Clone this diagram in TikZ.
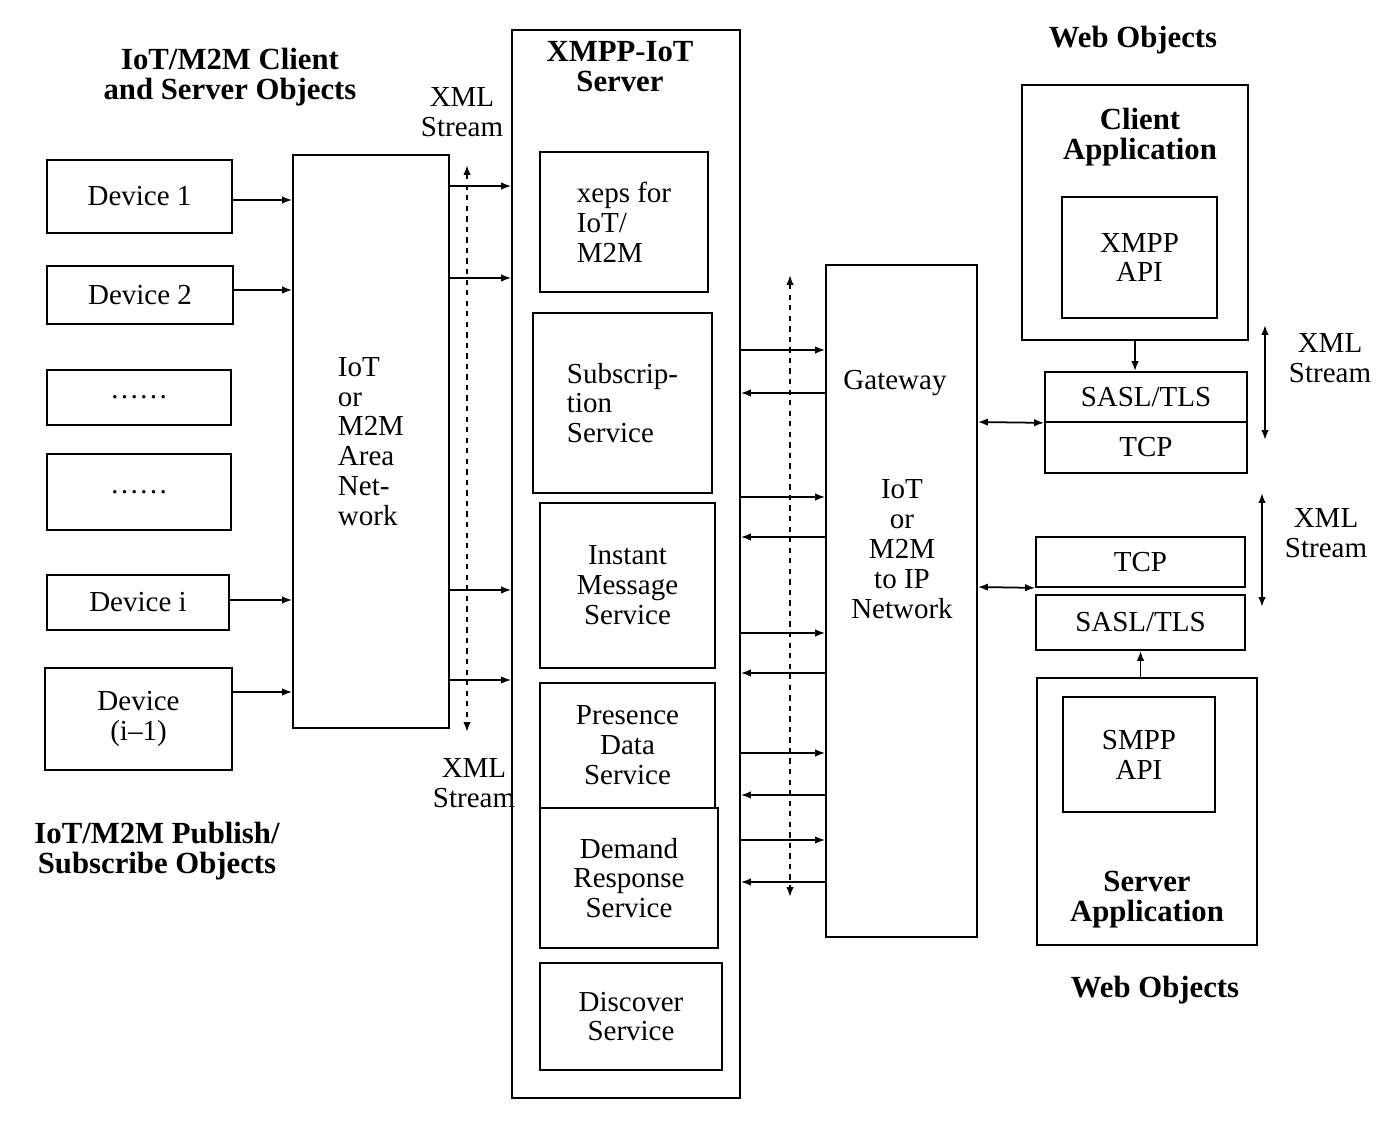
\documentclass[tikz,border=0pt]{standalone}
\usepackage{fontspec}
\setmainfont{Liberation Serif}
\usetikzlibrary{arrows.meta}

\begin{document}
\begin{tikzpicture}[x=0.02cm, y=-0.02cm, line width=1pt, >={Latex[length=0.2cm,width=0.15cm]},
    every node/.style={font=\fontsize{16.5}{17}\selectfont},
    box/.style={draw, align=center},
    hd/.style={font=\fontsize{17.5}{17}\selectfont\bfseries, align=center},
    txt/.style={align=center}]
    \useasboundingbox (0,0) rectangle (1376,1138);
    % Left-hand titles
    \node[hd] (clientobj) at (230,77) {IoT/M2M Client\\and Server Objects};
    \node[hd] (pubsub) at (157,851) {IoT/M2M Publish/\\Subscribe Objects};
    % Devices
    \node[box, minimum width=3.70cm, minimum height=1.46cm] (dev1) at (139.5,196.5) {Device 1};
    \node[box, minimum width=3.72cm, minimum height=1.16cm] (dev2) at (140,295) {Device 2};
    \node[box, minimum width=3.68cm, minimum height=1.10cm] (dots1) at (139,397.5) {\dots\dots};
    \node[box, minimum width=3.68cm, minimum height=1.52cm] (dots2) at (139,492) {\dots\dots};
    \node[box, minimum width=3.64cm, minimum height=1.10cm] (devi) at (138,602.5) {Device i};
    \node[box, minimum width=3.74cm, minimum height=2.04cm] (devn) at (138.5,719) {Device\\(i–1)};
    % Area network
    \node[box, align=left, minimum width=3.12cm, minimum height=11.46cm] (area) at (371,441.5) {IoT\\or\\M2M\\Area\\Net-\\work};
    \draw[->] (dev1.east |- 0,200) -- (area.west |- 0,200);
    \draw[->] (dev2.east |- 0,290) -- (area.west |- 0,290);
    \draw[->] (devi.east |- 0,600) -- (area.west |- 0,600);
    \draw[->] (devn.east |- 0,692) -- (area.west |- 0,692);
    % XMPP-IoT server
    \node[box, minimum width=4.56cm, minimum height=21.36cm] (server) at (626,564) {};
    \node[hd] (servtitle) at (620,67) {XMPP-IoT\\Server};
    \node[box, align=left, minimum width=3.36cm, minimum height=2.80cm] (xeps) at (624,222) {xeps for\\IoT/\\M2M};
    \node[box, align=left, minimum width=3.58cm, minimum height=3.60cm] (subs) at (622.5,403) {Subscrip-\\tion\\Service};
    \node[box, minimum width=3.50cm, minimum height=3.30cm] (inst) at (627.5,585.5) {Instant\\Message\\Service};
    \node[box, minimum width=3.50cm, minimum height=2.50cm] (pres) at (627.5,745.5) {Presence\\Data\\Service};
    \node[box, minimum width=3.56cm, minimum height=2.80cm] (dem) at (629,878) {Demand\\Response\\Service};
    \node[box, minimum width=3.64cm, minimum height=2.14cm] (disc) at (631,1016.5) {Discover\\Service};
    % XML stream, area network to server
    \node[txt] (xsl1) at (462,112) {XML\\Stream};
    \node[txt] (xsl2) at (474,783) {XML\\Stream};
    \coordinate (ds1a) at (467,165);
    \coordinate (ds1b) at (467,732);
    \draw[<->, dashed] (ds1a) -- (ds1b);
    \foreach \y in {186,278,590,680}
        \draw[->] (area.east |- 0,\y) -- (server.west |- 0,\y);
    % Gateway
    \node[box, minimum width=3.02cm, minimum height=13.44cm] (gw) at (901.5,601) {};
    \node (gwtitle) at (895,383) {Gateway};
    \node[txt] (gwtext) at (902,549) {IoT\\or\\M2M\\to IP\\Network};
    \foreach \y in {350,497,633,753,840}
        \draw[->] (server.east |- 0,\y) -- (gw.west |- 0,\y);
    \foreach \y in {393,537,673,795,882}
        \draw[<-] (server.east |- 0,\y) -- (gw.west |- 0,\y);
    \coordinate (ds2a) at (790,275);
    \coordinate (ds2b) at (790,897);
    \draw[<->, dashed] (ds2a) -- (ds2b);
    % Web objects, client side
    \node[hd] (webtop) at (1133,40) {Web Objects};
    \node[box, minimum width=4.52cm, minimum height=5.10cm] (capp) at (1135,212.5) {};
    \node[hd] (capptitle) at (1140,137) {Client\\Application};
    \node[box, minimum width=3.10cm, minimum height=2.42cm] (xapi) at (1139.5,257.5) {XMPP\\API};
    \node[box, minimum width=4.04cm, minimum height=1.00cm] (sasl1) at (1146,397) {SASL/TLS};
    \node[box, minimum width=4.04cm, minimum height=1.02cm] (tcp1) at (1146,447.5) {TCP};
    \draw[->] (capp.south) -- (capp.south |- sasl1.north);
    \draw[<->] (gw.east |- 0,422) -- (sasl1.south west);
    \node[txt] (xsl3) at (1330,358) {XML\\Stream};
    \coordinate (xs3a) at (1265,325);
    \coordinate (xs3b) at (1265,440);
    \draw[<->] (xs3a) -- (xs3b);
    % Web objects, server side
    \node[box, minimum width=4.18cm, minimum height=1.00cm] (tcp2) at (1140.5,562) {TCP};
    \node[box, minimum width=4.18cm, minimum height=1.10cm] (sasl2) at (1140.5,622.5) {SASL/TLS};
    \draw[<->] (gw.east |- 0,587) -- (tcp2.south west);
    \node[txt] (xsl4) at (1326,533) {XML\\Stream};
    \coordinate (xs4a) at (1262,493);
    \coordinate (xs4b) at (1262,607);
    \draw[<->] (xs4a) -- (xs4b);
    \node[box, minimum width=4.40cm, minimum height=5.34cm] (sapp) at (1147,811.5) {};
    \node[box, minimum width=3.04cm, minimum height=2.30cm] (sapi) at (1139,754.5) {SMPP\\API};
    \node[hd] (sapptitle) at (1147,900) {Server\\Application};
    \draw[->] (sapp.north -| sasl2.south) -- (sasl2.south);
    \node[hd] (webbot) at (1155,990) {Web Objects};
\end{tikzpicture}
\end{document}
